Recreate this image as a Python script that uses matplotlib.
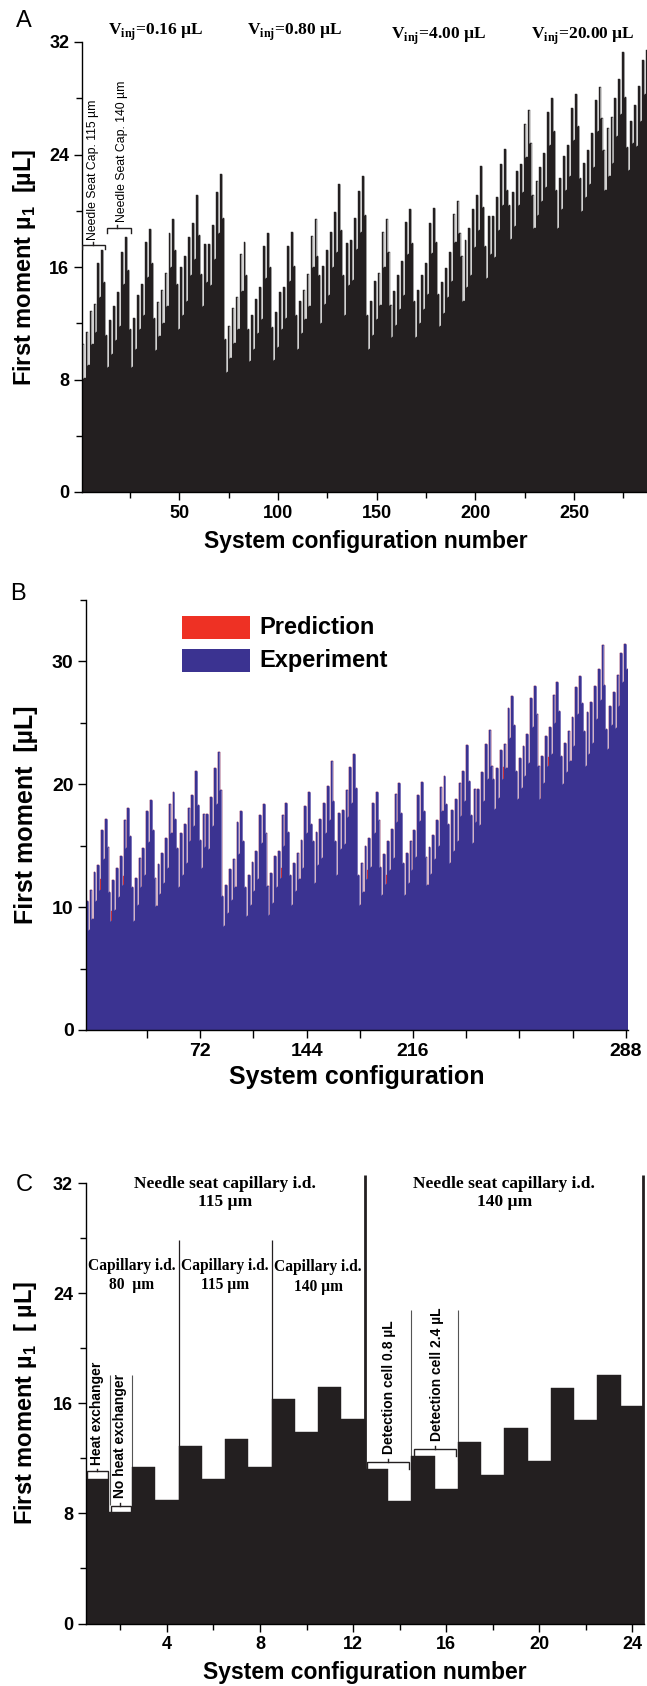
import matplotlib

matplotlib.use("Agg")
import matplotlib.pyplot as plt
from matplotlib.patches import Rectangle
from matplotlib.ticker import FixedFormatter, FixedLocator, MultipleLocator

plt.rcParams["font.family"] = ["Liberation Sans", "DejaVu Sans"]
plt.rcParams["font.weight"] = "bold"
plt.rcParams["axes.labelweight"] = "bold"
plt.rcParams["mathtext.fontset"] = "custom"
plt.rcParams["mathtext.rm"] = "Liberation Serif:bold"
plt.rcParams["mathtext.bf"] = "Liberation Serif:bold"
plt.rcParams["mathtext.sf"] = "Liberation Sans:bold"

# first moment per system configuration, read per injection volume block (72 configs each)
mu1_v016 = [
    10.5, 8.1, 11.4, 9.0, 12.9, 10.5, 13.4, 11.4, 16.3, 13.9, 17.2, 14.9,
    11.2, 8.9, 12.2, 9.8, 13.2, 10.8, 14.2, 11.8, 17.1, 14.8, 18.1, 15.8,
    11.6, 8.9, 12.4, 10.2, 14.0, 11.6, 14.8, 12.6, 17.8, 15.3, 18.7, 16.3,
    12.4, 10.1, 13.5, 11.1, 14.4, 12.0, 15.6, 13.2, 18.4, 16.0, 19.4, 17.2,
    14.8, 11.6, 16.0, 12.6, 16.8, 13.6, 18.1, 15.4, 19.1, 16.6, 21.1, 18.3,
    15.5, 13.2, 17.6, 14.9, 17.6, 14.7, 19.0, 16.6, 21.3, 18.4, 22.6, 19.5,
]
mu1_v080 = [
    10.9, 8.5, 11.8, 9.5, 13.1, 10.6, 13.9, 11.6, 16.9, 14.3, 17.8, 15.4,
    11.6, 9.3, 12.6, 10.2, 13.7, 11.3, 14.6, 12.3, 17.5, 15.2, 18.4, 16.0,
    11.7, 9.4, 12.8, 10.3, 14.2, 11.6, 14.6, 12.4, 17.5, 15.0, 18.5, 16.1,
    12.6, 10.2, 13.6, 11.3, 14.4, 12.3, 15.5, 13.2, 18.2, 16.0, 19.4, 16.8,
    15.4, 12.0, 16.1, 13.4, 17.2, 14.0, 18.5, 16.0, 19.9, 17.1, 21.9, 18.6,
    15.4, 12.6, 17.7, 14.7, 17.9, 15.1, 19.5, 17.3, 21.4, 18.5, 22.5, 19.7,
]
mu1_v400 = [
    12.6, 10.2, 13.6, 11.2, 15.0, 12.3, 15.6, 13.3, 18.5, 16.0, 19.4, 17.1,
    13.3, 11.0, 14.3, 11.9, 15.4, 13.0, 16.4, 14.0, 19.2, 16.9, 20.1, 17.7,
    13.6, 11.0, 14.4, 12.0, 15.4, 13.0, 16.3, 14.1, 19.1, 17.0, 20.2, 17.8,
    14.1, 11.8, 14.9, 12.7, 15.9, 13.9, 17.1, 15.0, 19.8, 17.8, 20.7, 18.4,
    16.8, 13.6, 17.9, 14.6, 18.8, 15.4, 20.1, 17.4, 21.1, 18.6, 23.2, 20.3,
    17.5, 15.2, 19.6, 16.9, 19.6, 16.7, 21.0, 18.6, 23.3, 20.4, 24.4, 21.5,
]
mu1_v2000 = [
    20.4, 18.0, 21.3, 18.9, 22.8, 20.4, 23.3, 21.3, 26.2, 23.8, 27.2, 24.8,
    21.1, 18.8, 22.1, 19.7, 23.1, 20.7, 24.1, 21.7, 27.0, 24.7, 28.0, 25.7,
    21.5, 18.8, 22.3, 20.1, 23.9, 21.5, 24.7, 22.5, 27.3, 25.0, 28.3, 26.0,
    22.3, 20.0, 23.4, 21.0, 24.3, 21.9, 25.5, 23.1, 27.9, 25.7, 28.8, 26.6,
    24.3, 21.5, 25.9, 22.5, 26.7, 23.4, 28.0, 25.3, 29.4, 26.9, 31.3, 28.1,
    24.5, 22.9, 26.4, 24.8, 27.5, 24.6, 28.9, 26.4, 30.7, 28.3, 31.4, 29.4,
]
mu1_all = mu1_v016 + mu1_v080 + mu1_v400 + mu1_v2000
configs = list(range(1, len(mu1_all) + 1))

vinj_labels = ["0.16", "0.80", "4.00", "20.00"]

# prediction: equal to experiment except where it pokes out above (config, value)
pred_over_cfg = [8, 14, 20, 104, 150, 160, 222, 246]
pred_over_val = [12.3, 9.7, 12.5, 13.2, 13.0, 12.6, 21.4, 22.2]
prediction = list(mu1_all)
for c, v in zip(pred_over_cfg, pred_over_val):
    prediction[c - 1] = v

# panel B axis ticks as they sit in the original (spacing does not follow the bar index)
b_ticks = [32.9, 61.2, 89.5, 117.7, 146.0, 174.3, 202.5, 230.8, 259.1, 287.4]
b_labels = ["", "72", "", "144", "", "216", "", "", "", "288"]

# panel C: first 24 configurations (V_inj = 0.16 uL)
mu1_c = mu1_v016[:24]
configs_c = list(range(1, 25))

BAR = "#231f20"
RED = "#ee3124"
BLUE = "#3b3391"

W, H = 647, 1686
fig = plt.figure(figsize=(W / 100, H / 100), dpi=100)


def box(l, t, r, b):
    return [l / W, 1 - b / H, (r - l) / W, (b - t) / H]


def style(ax, size):
    for s in ("top", "right"):
        ax.spines[s].set_visible(False)
    for s in ("left", "bottom"):
        ax.spines[s].set_linewidth(1.0)
    ax.tick_params(which="major", direction="out", length=6, width=1, labelsize=size, pad=3)
    ax.tick_params(which="minor", direction="out", length=4, width=1)


def seams(ax, xs, hs, color, lw=0.7):
    # light edge where a bar steps down to its right neighbour
    for i in range(len(hs) - 1):
        if hs[i] > hs[i + 1]:
            ax.vlines(xs[i] + 0.4, hs[i + 1], hs[i], color=color, lw=lw, zorder=3)


def bracket(ax, x0, x1, y, drop, xc, up, lw=1.0):
    ax.plot([x0, x0, x1, x1], [y - drop, y, y, y - drop], color=BAR, lw=lw, zorder=4,
            solid_joinstyle="miter")
    ax.plot([xc, xc], [y, y + up], color=BAR, lw=lw, zorder=4)


# ---------------- A ----------------
axA = fig.add_axes(box(81.7, 42, 650, 492))
axA.bar(configs, mu1_all, width=1.0, color=BAR, edgecolor=BAR, linewidth=0.3)
seams(axA, configs, mu1_all, "#9a9a9a")
axA.set_xlim(0.5, 288.5)
axA.set_ylim(0, 32)
axA.yaxis.set_major_locator(FixedLocator([0, 8, 16, 24, 32]))
axA.yaxis.set_minor_locator(MultipleLocator(4))
axA.xaxis.set_major_locator(FixedLocator([50, 100, 150, 200, 250]))
axA.xaxis.set_minor_locator(FixedLocator([25, 75, 125, 175, 225, 275]))
style(axA, 13)
axA.set_xlabel("System configuration number", fontsize=16.5, labelpad=6)
axA.set_ylabel(r"First moment µ$_\mathsf{1}$  [µL]", fontsize=17, labelpad=8)

bracket(axA, 0.6, 12.3, 17.55, 0.3, 6.2, 0.25)
bracket(axA, 13.2, 25.4, 18.75, 0.3, 18.6, 0.25)
axA.text(6.4, 17.95, "Needle Seat Cap. 115 µm", rotation=90, ha="center", va="bottom",
         fontsize=8.8, fontweight="normal")
axA.text(20.8, 19.2, "Needle Seat Cap. 140 µm", rotation=90, ha="center", va="bottom",
         fontsize=8.8, fontweight="normal")

for lab, (px, py) in zip(vinj_labels, [(108, 35), (247, 35), (391, 39), (531, 39)]):
    fig.text(px / W, 1 - py / H, r"V$_{\mathbf{inj}}$=" + lab + " µL", ha="left",
             va="baseline", fontsize=12.5, family="Liberation Serif", fontweight="bold")

fig.text(16 / W, 1 - 21 / H, "A", fontsize=17, fontweight="normal", va="center")

# ---------------- B ----------------
axB = fig.add_axes(box(86, 600, 628, 1030))
axB.bar(configs, prediction, width=1.0, color=RED, edgecolor=RED, linewidth=0.3)
axB.bar(configs, mu1_all, width=1.0, color=BLUE, edgecolor=BLUE, linewidth=0.3)
seams(axB, configs, mu1_all, "#7a74ba")
axB.set_xlim(0.5, 288.5)
axB.set_ylim(0, 35)
axB.yaxis.set_major_locator(FixedLocator([0, 10, 20, 30]))
axB.yaxis.set_minor_locator(MultipleLocator(5))
axB.xaxis.set_major_locator(FixedLocator(b_ticks))
axB.xaxis.set_major_formatter(FixedFormatter(b_labels))
style(axB, 14)
axB.set_xlabel("System configuration", fontsize=18, labelpad=4)
axB.set_ylabel("First moment  [µL]", fontsize=18, labelpad=10)

fig.add_artist(Rectangle((182 / W, 1 - 639 / H), 68 / W, 23 / H, transform=fig.transFigure,
                         facecolor=RED, edgecolor="none"))
fig.add_artist(Rectangle((182 / W, 1 - 672 / H), 68 / W, 23 / H, transform=fig.transFigure,
                         facecolor=BLUE, edgecolor="none"))
fig.text(259 / W, 1 - 628 / H, "Prediction", fontsize=17, va="center")
fig.text(259 / W, 1 - 660 / H, "Experiment", fontsize=17, va="center")
fig.text(10 / W, 1 - 594 / H, "B", fontsize=17, fontweight="normal", va="center")

# ---------------- C ----------------
axC = fig.add_axes(box(85.5, 1183.3, 644, 1623.5))
axC.bar(configs_c, mu1_c, width=1.0, color=BAR, edgecolor=BAR, linewidth=0.3, zorder=2)
axC.set_xlim(0.5, 24.5)
axC.set_ylim(0, 32)
axC.yaxis.set_major_locator(FixedLocator([0, 8, 16, 24, 32]))
axC.yaxis.set_minor_locator(MultipleLocator(4))
axC.xaxis.set_major_locator(FixedLocator([4, 8, 12, 16, 20, 24]))
axC.xaxis.set_minor_locator(FixedLocator([2, 6, 10, 14, 18, 22]))
style(axC, 13)
axC.set_xlabel("System configuration number", fontsize=16.5, labelpad=6)
axC.set_ylabel(r"First moment µ$_\mathsf{1}$  [ µL]", fontsize=17, labelpad=10)

# group separators
axC.vlines(12.5, 0, 32.6, color=BAR, lw=2.0, zorder=1, clip_on=False)
axC.vlines(24.45, 0, 32.6, color=BAR, lw=2.0, zorder=1, clip_on=False)
axC.vlines([4.5, 8.5], 0, 27.9, color=BAR, lw=0.9, zorder=1)
axC.vlines([1.55, 2.5], 8.6, 18.1, color="#555555", lw=0.8, zorder=1)
axC.vlines([14.5, 16.5], 11.8, 22.8, color="#555555", lw=0.8, zorder=1)

serif = dict(family="Liberation Serif", fontweight="bold", ha="center")
axC.text(6.5, 31.3, "Needle seat capillary i.d.\n115 µm", va="center", linespacing=1.15,
         fontsize=12.5, **serif)
axC.text(18.5, 31.3, "Needle seat capillary i.d.\n140 µm", va="center", linespacing=1.15,
         fontsize=12.5, **serif)
axC.text(2.5, 25.3, "Capillary i.d.\n80  µm", va="center", linespacing=1.2, fontsize=11.2, **serif)
axC.text(6.5, 25.3, "Capillary i.d.\n115 µm", va="center", linespacing=1.2, fontsize=11.2, **serif)
axC.text(10.5, 25.2, "Capillary i.d.\n140 µm", va="center", linespacing=1.3, fontsize=11.2, **serif)

bracket(axC, 0.55, 1.45, 11.05, 0.5, 1.0, 0.2)
bracket(axC, 1.6, 2.45, 8.55, 0.45, 2.0, 0.2)
bracket(axC, 12.6, 14.4, 11.75, 0.55, 13.5, 0.2)
bracket(axC, 14.6, 16.4, 12.7, 0.5, 15.5, 0.2)
small = dict(rotation=90, ha="center", va="bottom", fontsize=10)
axC.text(1.0, 11.5, "Heat exchanger", **small)
axC.text(2.0, 9.1, "No heat exchanger", **small)
axC.text(13.55, 12.3, "Detection cell 0.8 µL", **small)
axC.text(15.6, 13.3, "Detection cell 2.4 µL", **small)

fig.text(16 / W, 1 - 1185 / H, "C", fontsize=17, fontweight="normal", va="center")

fig.savefig("out.png", dpi=100)
